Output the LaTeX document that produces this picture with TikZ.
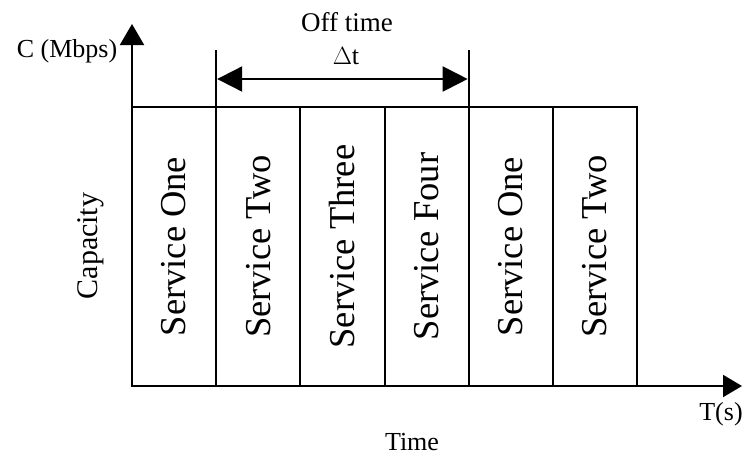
\documentclass[tikz,border=0pt]{standalone}
\usepackage{fontspec}
\setmainfont{Liberation Serif}
\usetikzlibrary{arrows.meta}
\begin{document}
\begin{tikzpicture}[x=1pt,y=-1pt,line width=2pt,
  slot/.style={draw, minimum width=84.17pt, minimum height=279pt,
    inner sep=0pt, outer sep=0pt, anchor=north west},
  slotlabel/.style={rotate=90, font=\fontsize{36.5}{40}\selectfont, inner sep=0pt},
  lbl/.style={font=\fontsize{26}{30}\selectfont, inner sep=0pt},
  bigtip/.tip={Triangle[length=21pt,width=24pt]},
  sidetip/.tip={Triangle[length=19pt,width=22pt]},
  spantip/.tip={Triangle[length=25pt,width=25pt]}]
  \useasboundingbox (0,0) rectangle (742,467);

  % time slots
  \foreach \i/\name in {1/Service One,2/Service Two,3/Service Three,
                        4/Service Four,5/Service One,6/Service Two}{
    \node[slot] (s\i) at ({132+(\i-1)*84.17},107) {};
    \node[slotlabel] (t\i) at (s\i.center) {\name};
  }

  % axes
  \coordinate (origin) at (132,386);
  \coordinate (ytip) at (132,24);
  \coordinate (xtip) at (742,386);
  \draw[-bigtip] (origin) -- (ytip);
  \draw[-sidetip] (origin) -- (xtip);

  % off-time interval markers
  \coordinate (top) at (0,50);
  \coordinate (mL) at (s2.north west |- top);
  \coordinate (mR) at (s5.north west |- top);
  \draw (s2.north west) -- (mL);
  \draw (s5.north west) -- (mR);
  \coordinate (mid) at (0,79);
  \coordinate (aL) at ([xshift=1pt]s2.north west |- mid);
  \coordinate (aR) at ([xshift=-1pt]s5.north west |- mid);
  \draw[spantip-spantip] (aL) -- (aR);

  % labels
  \node[lbl] (cap) at (67,51) {C (Mbps)};
  \node[lbl, font=\fontsize{27}{30}\selectfont] (off) at (347,22) {Off time};
  \node[lbl] (dt) at (346,56) {$\Delta$t};
  \node[lbl] (ts) at (721,414) {T(s)};
  \node[lbl] (tm) at (412,442) {Time};
  \node[lbl, rotate=90, font=\fontsize{30}{32}\selectfont] (capy) at (91,246) {Capacity};
\end{tikzpicture}
\end{document}
